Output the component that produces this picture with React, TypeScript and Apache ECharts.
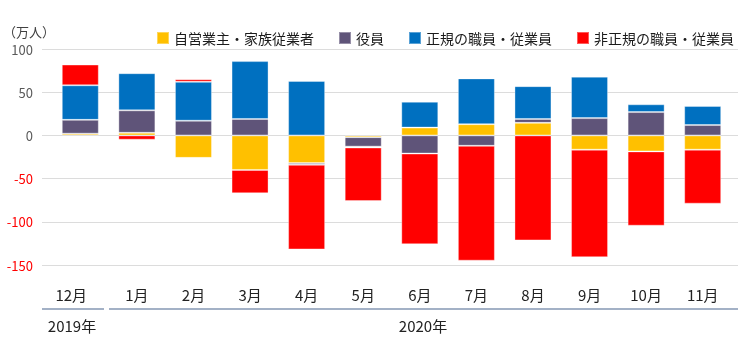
import React, { useEffect, useRef } from "react";
import * as echarts from "echarts";

const categories = ["12月", "1月", "2月", "3月", "4月", "5月", "6月", "7月", "8月", "9月", "10月", "11月"];
const seriesNames = ["自営業主・家族従業者", "役員", "正規の職員・従業員", "非正規の職員・従業員"];
const selfEmployed = [2, 3, -26, -40, -32, -2, 9, 13, 14.5, -16.5, -18.5, -16.5];
const executives = [16, 26, 17, 19, -2, -11, -21, -12, 4.5, 20, 27, 12];
const regular = [40, 43, 45, 67, 63, -1, 30, 53, 38, 48, 9, 22];
const nonRegular = [24, -5, 3, -27, -98, -62, -105, -133, -121.5, -124.5, -86, -62.5];
const yearLabels = ["2019年", "2020年"];
const unitLabel = "（万人）";
const colors = ["#FFC000", "#5F5479", "#0070C0", "#FF0000"];

const FONT = '"Noto Sans CJK JP", "Noto Sans", sans-serif';

export default function App() {
  const ref = useRef<HTMLDivElement>(null);
  useEffect(() => {
    if (!ref.current) return;
    const chart = echarts.init(ref.current, null, { renderer: "svg" });
    const values = [selfEmployed, executives, regular, nonRegular];
    chart.setOption({
      animation: false,
      textStyle: { fontFamily: FONT },
      legend: {
        top: 26,
        right: 3,
        icon: "rect",
        itemWidth: 12,
        itemHeight: 12,
        itemGap: 24,
        textStyle: { fontSize: 14, color: "#1a1a1a", fontFamily: FONT },
        data: seriesNames,
      },
      grid: [
        { left: 42, right: 4, top: 49, height: 216 },
        { left: 52, right: 11, top: 49, height: 216 },
      ],
      xAxis: [
        { gridIndex: 0, type: "value", show: false, min: 0, max: 1 },
        {
          gridIndex: 1,
          type: "category",
          data: categories,
          axisLine: { show: false },
          axisTick: { show: false },
          axisLabel: {
            interval: 0,
            margin: 22,
            fontSize: 15,
            color: "#222",
            fontFamily: FONT,
            formatter: (v: string, i: number) => (i === 0 ? `{f|${v}}` : v),
            rich: { f: { padding: [0, 18, 0, 0], fontSize: 15, color: "#222", fontFamily: FONT } },
          },
        },
      ],
      yAxis: [
        {
          gridIndex: 0,
          type: "value",
          min: -150,
          max: 100,
          interval: 50,
          axisLine: { show: false },
          axisTick: { show: false },
          splitLine: { lineStyle: { color: "#dcdcdc", width: 1 } },
          axisLabel: {
            margin: 9,
            fontSize: 13,
            fontFamily: FONT,
            formatter: (v: number) => (v < 0 ? `{n|${v}}` : `{p|${v}}`),
            rich: {
              n: { color: "#FF0000", fontSize: 13, fontFamily: FONT },
              p: { color: "#595959", fontSize: 13, fontFamily: FONT },
            },
          },
        },
        { gridIndex: 1, type: "value", min: -150, max: 100, interval: 50, show: false, splitLine: { show: false } },
      ],
      series: seriesNames.map((name, k) => ({
        name,
        type: "bar",
        xAxisIndex: 1,
        yAxisIndex: 1,
        stack: "total",
        barWidth: 37,
        itemStyle: { color: colors[k], borderColor: "rgba(255,255,255,0.35)", borderWidth: 1 },
        data: values[k],
      })),
      graphic: [
        {
          type: "text",
          left: 3,
          top: 25,
          style: { text: unitLabel, fontSize: 13, fill: "#404040", fontFamily: FONT },
        },
        {
          type: "line",
          shape: { x1: 42, y1: 309, x2: 104, y2: 309 },
          style: { stroke: "#a3b1c6", lineWidth: 2 },
        },
        {
          type: "line",
          shape: { x1: 109, y1: 309, x2: 738, y2: 309 },
          style: { stroke: "#a3b1c6", lineWidth: 2 },
        },
        {
          type: "text",
          x: 72,
          y: 325,
          style: { text: yearLabels[0], fontSize: 15, fill: "#222", fontFamily: FONT, align: "center", verticalAlign: "middle" },
        },
        {
          type: "text",
          x: 423,
          y: 325,
          style: { text: yearLabels[1], fontSize: 15, fill: "#222", fontFamily: FONT, align: "center", verticalAlign: "middle" },
        },
      ],
    });
    return () => chart.dispose();
  }, []);
  return <div ref={ref} style={{ position: "fixed", left: 0, top: 0, width: 742, height: 348 }} />;
}
